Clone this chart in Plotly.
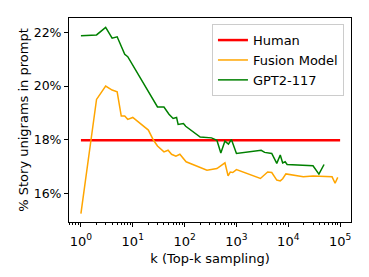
import plotly.graph_objects as go

human_k = [1, 100000]
human_v = [17.98, 17.98]

fusion_k = [1, 2, 3, 4, 5, 6, 7, 8, 10, 20, 25, 30, 40, 48, 56, 68, 81, 107, 270, 420, 600, 690,
            760, 850, 1000, 2900, 4000, 4800, 6000, 7000, 7800, 9000, 19500, 30000, 70000, 80000, 90000]
fusion_v = [15.25, 19.5, 20.0, 19.85, 19.78, 18.88, 18.88, 18.76, 18.83, 18.36, 17.99, 17.77, 17.55,
            17.61, 17.46, 17.39, 17.46, 17.18, 16.87, 16.93, 17.14, 16.66, 16.8, 16.78, 16.89, 16.56,
            16.8, 16.78, 16.5, 16.47, 16.55, 16.73, 16.62, 16.65, 16.62, 16.38, 16.6]

gpt_k = [1, 2, 3, 4, 5, 7, 8, 10, 25, 30, 40, 50, 60, 70, 75, 95, 105, 200, 330, 420, 500, 600,
         700, 800, 1000, 3000, 3500, 4800, 6000, 7000, 7800, 8700, 9500, 30000, 39000, 49000]
gpt_v = [21.87, 21.9, 22.18, 21.78, 21.83, 21.18, 21.09, 20.78, 19.47, 19.22, 19.22, 18.95, 18.79,
         18.83, 18.57, 18.6, 18.5, 18.1, 18.07, 17.98, 17.51, 17.95, 17.84, 18.01, 17.49, 17.61,
         17.53, 17.49, 17.12, 17.43, 17.14, 17.18, 17.08, 17.03, 16.72, 17.08]

x_tickvals = [1, 10, 100, 1000, 10000, 100000]
x_ticktext = ["10<sup>0</sup>", "10<sup>1</sup>", "10<sup>2</sup>", "10<sup>3</sup>",
              "10<sup>4</sup>", "10<sup>5</sup>"]
y_tickvals = [16, 18, 20, 22]
y_ticktext = ["16%", "18%", "20%", "22%"]

minor_vals = [m * 10 ** e for e in range(-1, 6) for m in range(2, 10)]

fig = go.Figure()
fig.add_trace(go.Scatter(x=human_k, y=human_v, mode="lines", name="Human",
                         line=dict(color="#ff0000", width=2.5)))
fig.add_trace(go.Scatter(x=fusion_k, y=fusion_v, mode="lines", name="Fusion Model",
                         line=dict(color="#ffa500", width=1.5)))
fig.add_trace(go.Scatter(x=gpt_k, y=gpt_v, mode="lines", name="GPT2-117",
                         line=dict(color="#008000", width=1.5)))

font = "DejaVu Sans"
# page body has an 8px margin, so the figure is sized to fit inside the window
fig.update_layout(
    width=361, height=269,
    margin=dict(l=61, r=18, t=10, b=55),
    paper_bgcolor="white", plot_bgcolor="white",
    font=dict(family=font, size=13, color="black"),
    legend=dict(x=0.975, y=0.97, xanchor="right", yanchor="top",
                bordercolor="#cccccc", borderwidth=1, bgcolor="white",
                font=dict(size=13), itemwidth=30, tracegroupgap=0),
    showlegend=True,
)
fig.update_xaxes(
    type="log", range=[-0.23, 5.21], automargin=False,
    tickvals=x_tickvals, ticktext=x_ticktext,
    ticks="outside", ticklen=4, tickcolor="black", ticklabelstandoff=3,
    minor=dict(tickvals=minor_vals, ticks="outside", ticklen=2, tickcolor="black"),
    showgrid=False, zeroline=False,
    showline=True, linecolor="black", linewidth=1, mirror=True,
    title=dict(text="k (Top-k sampling)", standoff=6, font=dict(size=13)),
    tickfont=dict(size=13),
)
fig.update_yaxes(
    range=[14.94, 22.53], automargin=False,
    tickvals=y_tickvals, ticktext=y_ticktext,
    ticks="outside", ticklen=4, tickcolor="black",
    showgrid=False, zeroline=False,
    showline=True, linecolor="black", linewidth=1, mirror=True,
    title=dict(text="% Story unigrams in prompt", standoff=2, font=dict(size=13)),
    tickfont=dict(size=12.5),
)

fig.write_html("out.html")
